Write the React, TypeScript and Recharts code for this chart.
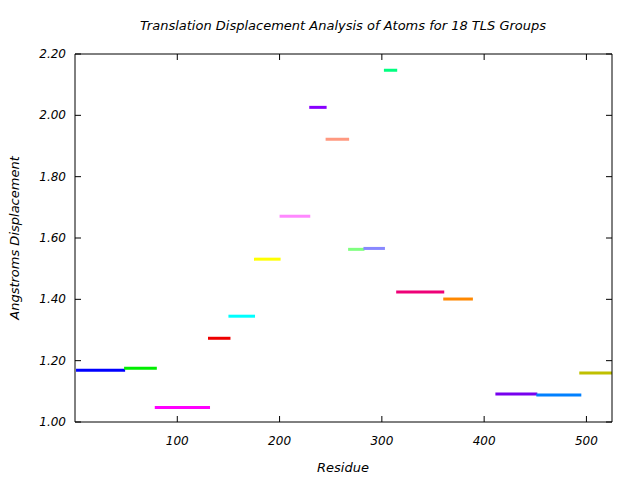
import React from "react"
import { LineChart, Line, XAxis, YAxis } from "recharts"

// one horizontal segment per TLS group: residue range and translation displacement
const segStart = [1, 48, 78, 130, 150, 175, 200, 229, 245, 267, 282, 302, 314, 360, 411, 451, 493]
const segEnd = [49, 80, 132, 152, 176, 201, 230, 246, 268, 283, 303, 315, 361, 389, 452, 495, 525]
const displacement = [
  1.169, 1.175, 1.047, 1.273, 1.345, 1.531, 1.671, 2.026, 1.922, 1.563, 1.566, 2.147, 1.424, 1.401, 1.091,
  1.088, 1.16,
]
const segColors = [
  "#0000ff", "#00ee00", "#ff00ff", "#ee0000", "#00ffff", "#ffff00", "#ff88ff", "#8800ff", "#ff9980",
  "#80ff80", "#8888ff", "#00ff80", "#ee0077", "#ff8800", "#7700ee", "#0080ff", "#c0c000",
]

const xTicks = [100, 200, 300, 400, 500]
const yTicks = [1.0, 1.2, 1.4, 1.6, 1.8, 2.0, 2.2]

const font = "'DejaVu Sans', sans-serif"

const BottomTick = ({ x, y, payload }: any) => (
  <g>
    <line x1={x} y1={y} x2={x} y2={y - 6} stroke="#000" />
    <text x={x} y={y + 23} textAnchor="middle" fontSize={12} fontStyle="italic" fontFamily={font} fill="#000">
      {payload.value}
    </text>
  </g>
)

const TopTick = ({ x, y }: any) => <line x1={x} y1={y} x2={x} y2={y + 6} stroke="#000" />

const LeftTick = ({ x, y, payload }: any) => (
  <g>
    <line x1={x} y1={y} x2={x + 6} y2={y} stroke="#000" />
    <text x={x - 9} y={y + 4} textAnchor="end" fontSize={12} fontStyle="italic" fontFamily={font} fill="#000">
      {Number(payload.value).toFixed(2)}
    </text>
  </g>
)

const RightTick = ({ x, y }: any) => <line x1={x} y1={y} x2={x - 6} y2={y} stroke="#000" />

export default function App() {
  const segments = segStart.map((s, i) => ({
    data: [
      { x: s, y: displacement[i] },
      { x: segEnd[i], y: displacement[i] },
    ],
    color: segColors[i],
  }))

  const textStyle: React.CSSProperties = {
    position: "absolute",
    fontFamily: font,
    fontStyle: "italic",
    fontSize: 13,
    color: "#000",
    whiteSpace: "nowrap",
  }

  return (
    <div style={{ position: "absolute", left: 0, top: 0, width: 640, height: 480, background: "#fff" }}>
      <LineChart width={640} height={480} margin={{ top: 0, right: 0, bottom: 0, left: 0 }}>
        <XAxis
          dataKey="x"
          type="number"
          domain={[0, 525]}
          ticks={xTicks}
          interval={0}
          allowDataOverflow
          height={58}
          tickSize={0}
          tickMargin={0}
          tickLine={false}
          axisLine={{ stroke: "#000" }}
          tick={<BottomTick />}
        />
        <XAxis
          xAxisId="top"
          orientation="top"
          dataKey="x"
          type="number"
          domain={[0, 525]}
          ticks={xTicks}
          interval={0}
          allowDataOverflow
          height={54}
          tickSize={0}
          tickMargin={0}
          tickLine={false}
          axisLine={{ stroke: "#000" }}
          tick={<TopTick />}
        />
        <YAxis
          type="number"
          domain={[1, 2.2]}
          ticks={yTicks}
          interval={0}
          allowDataOverflow
          width={75}
          tickSize={0}
          tickMargin={0}
          tickLine={false}
          axisLine={{ stroke: "#000" }}
          tick={<LeftTick />}
        />
        <YAxis
          yAxisId="right"
          orientation="right"
          type="number"
          domain={[1, 2.2]}
          ticks={yTicks}
          interval={0}
          allowDataOverflow
          width={28}
          tickSize={0}
          tickMargin={0}
          tickLine={false}
          axisLine={{ stroke: "#000" }}
          tick={<RightTick />}
        />
        {segments.map((seg, i) => (
          <Line
            key={`seg-${i}`}
            data={seg.data}
            dataKey="y"
            stroke={seg.color}
            strokeWidth={3}
            dot={false}
            activeDot={false}
            isAnimationActive={false}
          />
        ))}
      </LineChart>
      <div style={{ ...textStyle, left: 0, width: 686, top: 18, textAlign: "center" }}>
        Translation Displacement Analysis of Atoms for 18 TLS Groups
      </div>
      <div style={{ ...textStyle, left: 0, width: 686, top: 460, textAlign: "center" }}>Residue</div>
      <div
        style={{
          ...textStyle,
          left: 14,
          top: 238,
          transform: "translate(-50%, -50%) rotate(-90deg)",
        }}
      >
        Angstroms Displacement
      </div>
    </div>
  )
}
